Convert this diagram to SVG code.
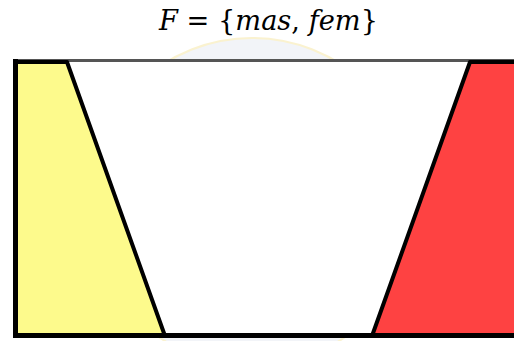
<svg xmlns="http://www.w3.org/2000/svg" width="514" height="341" viewBox="0 0 514 341">
<style>
.t{font-family:"DejaVu Serif","Liberation Serif",serif;font-size:27px;fill:#000}
.i{font-style:italic}
.edge{stroke:#000;stroke-width:4;stroke-linejoin:round;fill:none}
.b{fill:#000}
</style>
<rect width="514" height="341" fill="#fff"/>
<g id="watermark" opacity="0.5">
<circle cx="252" cy="202" r="164" fill="#e6eaf2" stroke="#f6e6a0" stroke-width="2"/>
</g>
<g id="title">
<text class="t" x="159" y="30" textLength="219" lengthAdjust="spacingAndGlyphs"><tspan class="i">F</tspan> = {<tspan class="i">mas</tspan>, <tspan class="i">fem</tspan>}</text>
</g>
<g id="frame">
<rect x="15" y="61" width="510" height="275" fill="#fff"/>
<line x1="13" y1="60.5" x2="514" y2="60.5" stroke="#555" stroke-width="3"/>
</g>
<g id="yellow">
<polygon points="15,62 67,62 165,336 15,336" fill="#fdfa8c"/>
<polyline class="edge" points="15,62 67,62 165,336"/>
</g>
<g id="red">
<polygon points="470,62 520,62 520,336 372,336" fill="#fe4242"/>
<polyline class="edge" points="520,62 470,62 372,336"/>
</g>
<g id="border">
<rect class="b" x="13" y="333" width="510" height="5"/>
<rect class="b" x="13" y="59" width="5" height="279"/>
</g>
<g id="connectors"/>
</svg>
